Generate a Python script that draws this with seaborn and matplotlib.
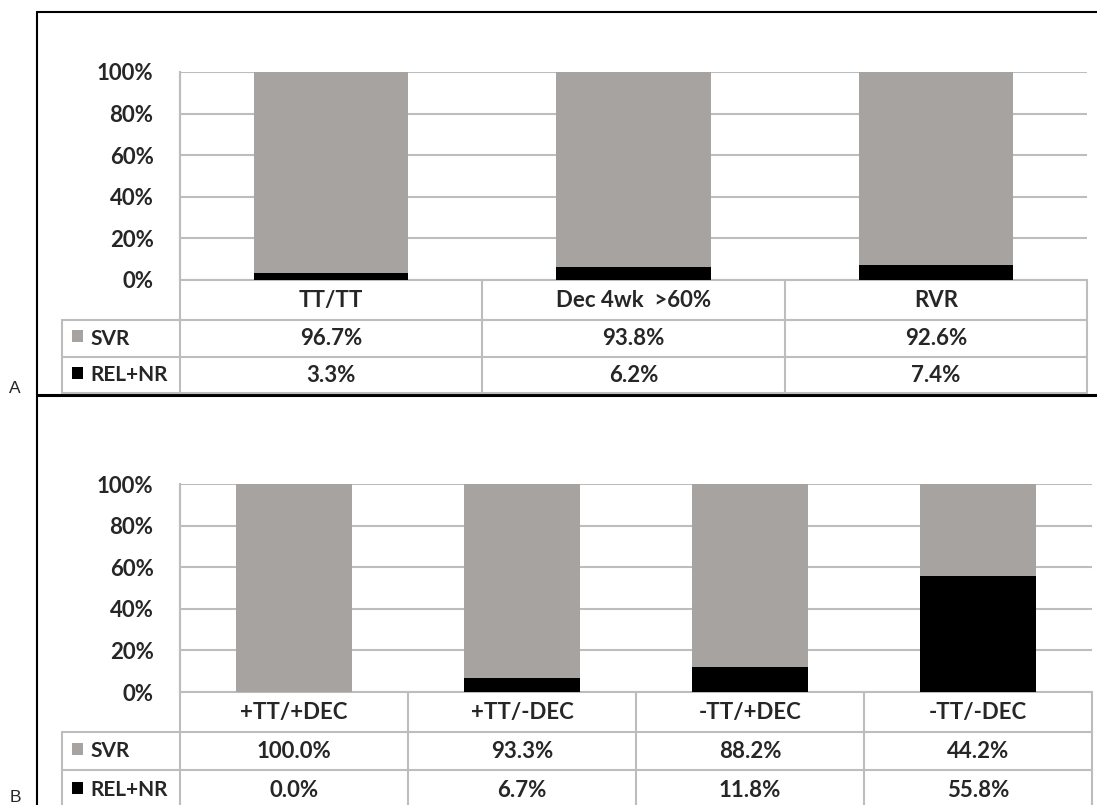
# Stacked outcome bars with a data table under each panel (A and B)
import matplotlib
matplotlib.use("Agg")
import matplotlib.pyplot as plt
import seaborn as sns

sns.set_theme(style="white")
plt.rcParams['font.family'] = ['Lato', 'DejaVu Sans']

# Panel A data
groups_a = ["TT/TT", "Dec 4wk  >60%", "RVR"]
svr_a = [96.7, 93.8, 92.6]
rel_a = [3.3, 6.2, 7.4]

# Panel B data
groups_b = ["+TT/+DEC", "+TT/-DEC", "-TT/+DEC", "-TT/-DEC"]
svr_b = [100.0, 93.3, 88.2, 44.2]
rel_b = [0.0, 6.7, 11.8, 55.8]

series_names = ["SVR", "REL+NR"]
yticks = [0, 20, 40, 60, 80, 100]

GRAY = "#a7a3a1"
LINE = "#bdbdbd"
FS = 16
W, H = 1097, 805

fig = plt.figure(figsize=(W / 100, H / 100), dpi=100)
bg = fig.add_axes([0, 0, 1, 1])
bg.set_xlim(0, W)
bg.set_ylim(H, 0)
bg.axis("off")

# outer frame lines
bg.plot([37, W], [12, 12], color="black", lw=1.5)
bg.plot([37, 37], [12, H], color="black", lw=1.5)
bg.plot([37, W], [395, 395], color="black", lw=2.2)
bg.text(15, 388, "A", fontsize=12.5, family="Liberation Sans", ha="center", va="center")
bg.text(15, 797, "B", fontsize=12.5, family="Liberation Sans", ha="center", va="center")


def panel(groups, svr, rel, x0, x1, ytop, ybot, rows):
    n = len(groups)
    ax = fig.add_axes([x0 / W, 1 - ybot / H, (x1 - x0) / W, (ybot - ytop) / H])
    ax.set_facecolor("none")
    total = [s + r for s, r in zip(svr, rel)]
    sns.barplot(x=groups, y=total, order=groups, color=GRAY, saturation=1,
                width=0.51, linewidth=0, errorbar=None, ax=ax)
    sns.barplot(x=groups, y=rel, order=groups, color="black", saturation=1,
                width=0.51, linewidth=0, errorbar=None, ax=ax)
    ax.set_xlim(-0.5, n - 0.5)
    ax.set_ylim(0, 100)
    ax.set_axisbelow(True)
    ax.yaxis.grid(True, color=LINE, lw=1.5)
    ax.set_yticks(yticks)
    ax.set_yticklabels([f"{v}%" for v in yticks], fontsize=FS, fontweight="bold")
    ax.tick_params(axis="y", length=0, pad=19)
    ax.set_xticks([])
    ax.set_xlabel("")
    ax.set_ylabel("")
    for s in ["top", "right", "bottom"]:
        ax.spines[s].set_visible(False)
    ax.spines["left"].set_color(LINE)
    ax.spines["left"].set_linewidth(1.5)

    # data table below
    colw = (x1 - x0) / n
    r0, r1, r2, r3 = rows
    for yy in [r0, r1, r2, r3]:
        xs = 62 if yy != r0 else x0
        bg.plot([xs, x1], [yy, yy], color=LINE, lw=1.5)
    for i in range(n + 1):
        bg.plot([x0 + i * colw] * 2, [ytop if i == 0 else r0, r3], color=LINE, lw=1.5)
    bg.plot([62, 62], [r1, r3], color=LINE, lw=1.5)
    for i, g in enumerate(groups):
        cx = x0 + (i + 0.5) * colw
        bg.text(cx, (r0 + r1) / 2, g, ha="center", va="center", fontsize=FS, fontweight="bold")
        bg.text(cx, (r1 + r2) / 2, f"{svr[i]:.1f}%", ha="center", va="center", fontsize=FS, fontweight="bold")
        bg.text(cx, (r2 + r3) / 2, f"{rel[i]:.1f}%", ha="center", va="center", fontsize=FS, fontweight="bold")
    for (ya, yb), name, col in zip([(r1, r2), (r2, r3)], series_names, [GRAY, "black"]):
        ym = (ya + yb) / 2
        bg.add_patch(plt.Rectangle((72, ym - 8), 11, 12, color=col, lw=0))
        bg.text(90, ym, name, ha="left", va="center", fontsize=15, fontweight="bold")


panel(groups_a, svr_a, rel_a, 180, 1087, 72, 280, (280, 320, 357, 393))
panel(groups_b, svr_b, rel_b, 180, 1092, 484, 692, (692, 732, 770, 810))

fig.savefig("out.png", dpi=100)
